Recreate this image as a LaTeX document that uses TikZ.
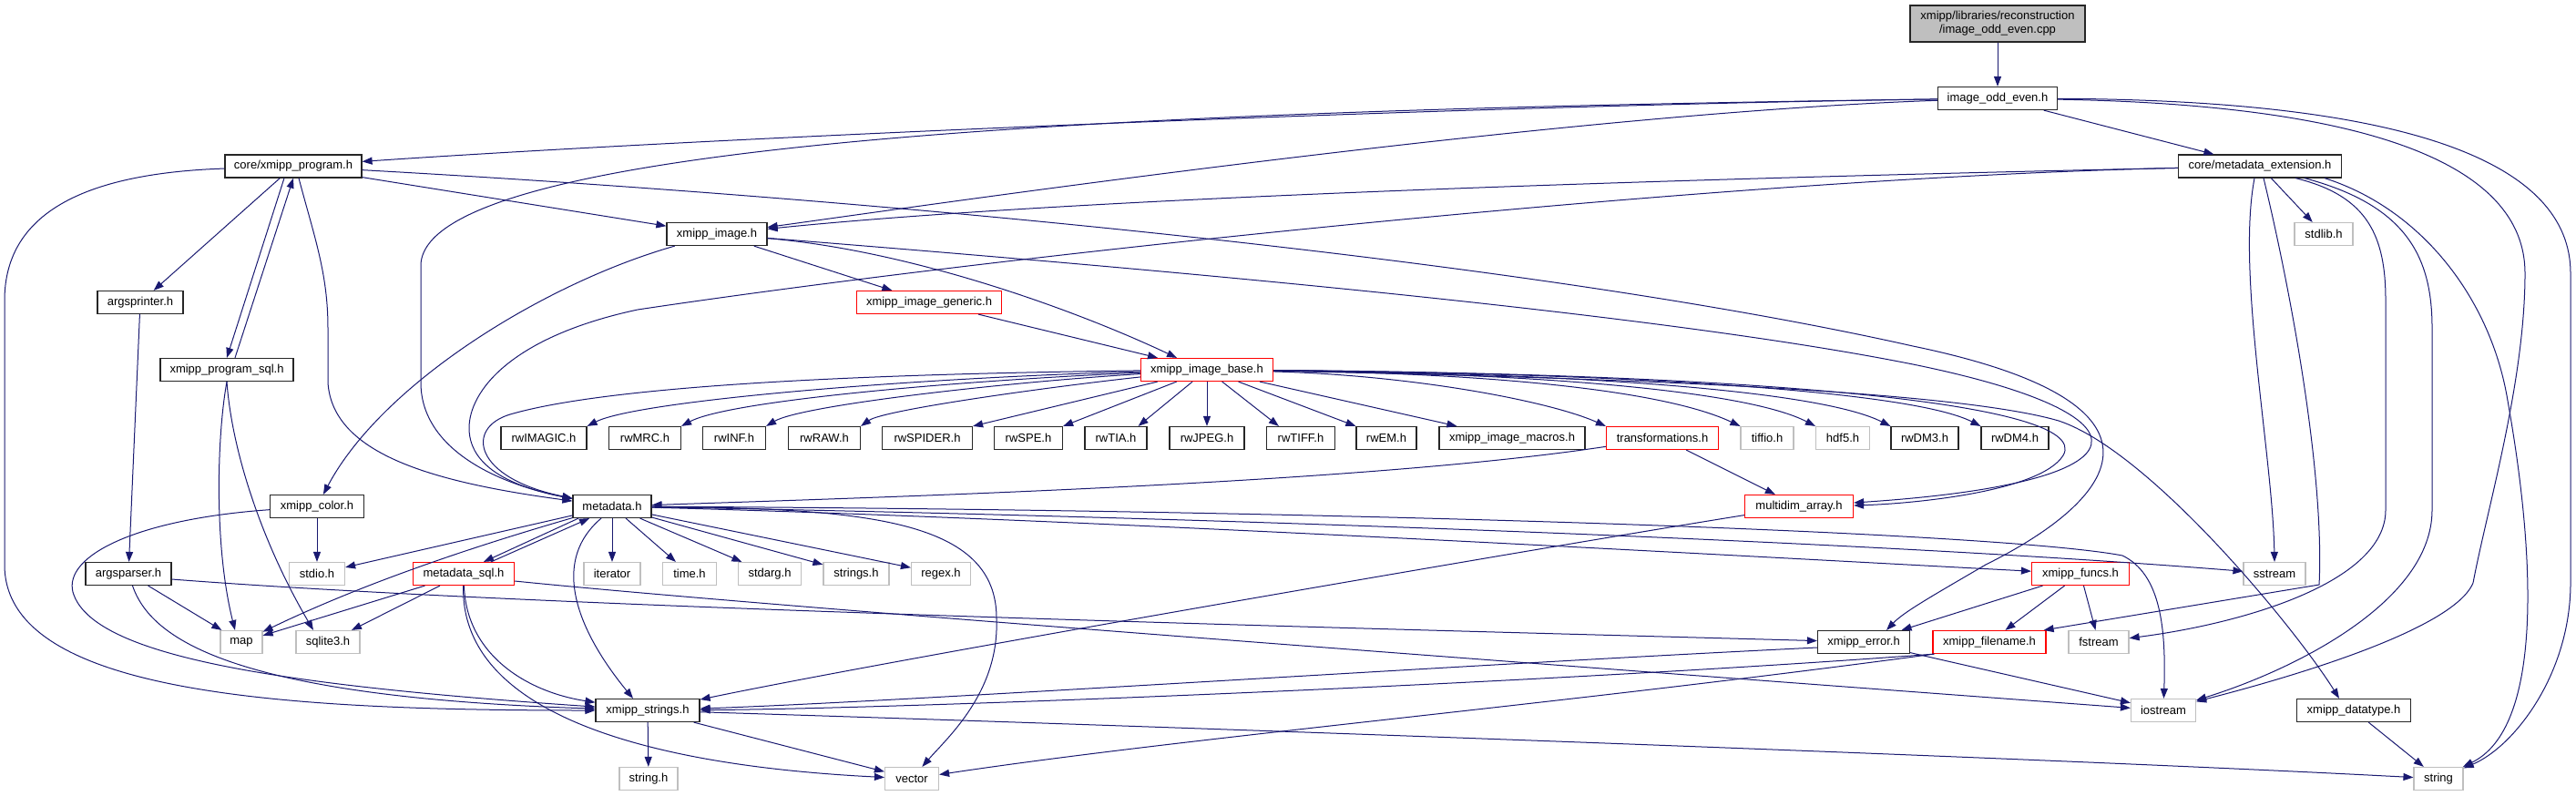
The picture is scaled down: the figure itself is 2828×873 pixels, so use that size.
\documentclass[tikz,border=0pt]{standalone}
\usepackage{fontspec}
\setmainfont{Liberation Sans}
\usetikzlibrary{arrows.meta}
\definecolor{edgec}{RGB}{25,25,112}
\definecolor{sysgray}{RGB}{191,191,191}
\tikzset{
  nb/.style={rectangle, draw=black!85, line width=1.2pt, fill=white, minimum height=25pt, inner sep=0pt, font=\fontsize{13}{15}\selectfont},
  nr/.style={nb, draw=red},
  ng/.style={nb, draw=sysgray},
  e/.style={draw=edgec, line width=1pt, -{Triangle[length=11pt,width=8pt]}}
}
\begin{document}
\begin{tikzpicture}[x=1pt,y=-1pt]
\useasboundingbox (0,0) rectangle (2828,873);
% rank 0-5
\node[nb, fill=sysgray, minimum width=192pt, minimum height=40pt, align=center] (cpp) at (2193,26) {xmipp/libraries/reconstruction\\/image\_odd\_even.cpp};
\node[nb, minimum width=131pt] (ioe) at (2193,108) {image\_odd\_even.h};
\node[nb, minimum width=150pt] (prog) at (322,182.5) {core/xmipp\_program.h};
\node[nb, minimum width=179pt] (mdext) at (2481,182.5) {core/metadata\_extension.h};
\node[nb, minimum width=110pt] (img) at (787,257) {xmipp\_image.h};
\node[ng, minimum width=64pt] (stdlib) at (2551,257) {stdlib.h};
\node[nb, minimum width=94pt] (argsprinter) at (154,332) {argsprinter.h};
\node[nr, minimum width=159pt] (generic) at (1020,332) {xmipp\_image\_generic.h};
\node[nb, minimum width=146pt] (progsql) at (249,406) {xmipp\_program\_sql.h};
\node[nr, minimum width=145pt] (base) at (1325,406) {xmipp\_image\_base.h};
% rank 6
\node[nb, minimum width=94pt] (rwIMAGIC) at (597,481) {rwIMAGIC.h};
\node[nb, minimum width=79pt] (rwMRC) at (708,481) {rwMRC.h};
\node[nb, minimum width=69pt] (rwINF) at (806,481) {rwINF.h};
\node[nb, minimum width=79pt] (rwRAW) at (905,481) {rwRAW.h};
\node[nb, minimum width=99pt] (rwSPIDER) at (1018,481) {rwSPIDER.h};
\node[nb, minimum width=75pt] (rwSPE) at (1129,481) {rwSPE.h};
\node[nb, minimum width=68pt] (rwTIA) at (1225,481) {rwTIA.h};
\node[nb, minimum width=82pt] (rwJPEG) at (1325,481) {rwJPEG.h};
\node[nb, minimum width=75pt] (rwTIFF) at (1428,481) {rwTIFF.h};
\node[nb, minimum width=66pt] (rwEM) at (1522,481) {rwEM.h};
\node[nb, minimum width=160pt] (macros) at (1660,481) {xmipp\_image\_macros.h};
\node[nr, minimum width=123pt] (transf) at (1825,481) {transformations.h};
\node[ng, minimum width=58pt] (tiffio) at (1940,481) {tiffio.h};
\node[ng, minimum width=59pt] (hdf5) at (2023,481) {hdf5.h};
\node[nb, minimum width=74pt] (rwDM3) at (2113,481) {rwDM3.h};
\node[nb, minimum width=74pt] (rwDM4) at (2212,481) {rwDM4.h};
% rank 7
\node[nb, minimum width=103pt] (color) at (348,556) {xmipp\_color.h};
\node[nb, minimum width=86pt] (metadata) at (672,556) {metadata.h};
\node[nr, minimum width=119pt] (multidim) at (1975,556) {multidim\_array.h};
% rank 8
\node[nb, minimum width=94pt] (argsparser) at (141,630) {argsparser.h};
\node[ng, minimum width=61pt] (stdio) at (348,630) {stdio.h};
\node[nr, minimum width=111pt] (mdsql) at (509,630) {metadata\_sql.h};
\node[ng, minimum width=62pt] (iterator) at (672,630) {iterator};
\node[ng, minimum width=59pt] (time) at (757,630) {time.h};
\node[ng, minimum width=69pt] (stdarg) at (845,630) {stdarg.h};
\node[ng, minimum width=72pt] (strings) at (940,630) {strings.h};
\node[ng, minimum width=65pt] (regex) at (1033,630) {regex.h};
\node[nr, minimum width=107pt] (funcs) at (2284,630) {xmipp\_funcs.h};
\node[ng, minimum width=68pt] (sstream) at (2497,630) {sstream};
% rank 9
\node[ng, minimum width=46pt] (map) at (265,705) {map};
\node[ng, minimum width=70pt] (sqlite3) at (360,705) {sqlite3.h};
\node[nb, minimum width=101pt] (error) at (2046,705) {xmipp\_error.h};
\node[nr, minimum width=124pt] (filename) at (2184,705) {xmipp\_filename.h};
\node[ng, minimum width=66pt] (fstream) at (2304,705) {fstream};
% rank 10
\node[nb, minimum width=114pt] (xstrings) at (711,780) {xmipp\_strings.h};
\node[ng, minimum width=71pt] (iostream) at (2375,780) {iostream};
\node[nb, minimum width=125pt] (datatype) at (2584,780) {xmipp\_datatype.h};
% rank 11
\node[ng, minimum width=64pt] (stringh) at (712,855) {string.h};
\node[ng, minimum width=59pt] (vector) at (1001,855) {vector};
\node[ng, minimum width=54pt] (string) at (2677,855) {string};

% ---- edges ----
\draw[e] (cpp) -- (ioe);
\draw[e] (ioe) .. controls (1600,116) and (800,150) .. (prog);
\draw[e] (ioe) .. controls (1700,125) and (1000,228) .. (img);
\draw[e] (ioe) .. controls (1300,120) and (470,150) .. (462,290) -- (462,420) .. controls (462,490) and (540,530) .. (metadata);
\draw[e] (ioe) -- (mdext);
\draw[e] (ioe) .. controls (2600,115) and (2772,180) .. (2772,300) .. controls (2772,420) and (2730,560) .. (2715,640) .. controls (2690,700) and (2450,760) .. (iostream);
\draw[e] (ioe) .. controls (2650,110) and (2822,180) .. (2822,300) -- (2822,640) .. controls (2822,740) and (2760,820) .. (string);

\draw[e] (mdext) .. controls (1900,195) and (1200,215) .. (img);
\draw[e] (mdext) .. controls (1900,195) and (1100,280) .. (700,340) .. controls (560,370) and (515,430) .. (515,470) .. controls (515,520) and (580,538) .. (metadata);
\draw[e] ([xshift=-6pt]mdext.south) .. controls (2455,300) and (2495,500) .. (sstream.north);
\draw[e] ([xshift=4pt]mdext.south) .. controls (2515,320) and (2552,520) .. (2546,642) -- ([xshift=-3pt]filename.north east);
\draw[e] (mdext) -- (stdlib);
\draw[e] ([xshift=39pt]mdext.south) .. controls (2600,215) and (2619,260) .. (2619,330) -- (2619,560) .. controls (2619,640) and (2460,685) .. (fstream);
\draw[e] ([xshift=49pt]mdext.south) .. controls (2640,225) and (2670,280) .. (2670,360) -- (2670,560) .. controls (2670,660) and (2520,735) .. (iostream);
\draw[e] ([xshift=71pt]mdext.south) .. controls (2660,230) and (2735,330) .. (2753,440) .. controls (2785,620) and (2790,800) .. (string);

\draw[e] (prog) -- (argsprinter);
\draw[e] ([xshift=-10pt]prog.south) -- (progsql.north);
\draw[e] ([xshift=9pt]progsql.north) -- (prog.south);
\draw[e] (prog) -- (img);
\draw[e] ([xshift=6pt]prog.south) .. controls (345,260) and (360,300) .. (360,360) -- (360,420) .. controls (365,500) and (480,530) .. (metadata);
\draw[e] (prog) .. controls (100,190) and (5,230) .. (5,330) -- (5,620) .. controls (5,760) and (300,780) .. (xstrings);
\draw[e] (prog) .. controls (1000,220) and (1700,290) .. (2100,380) .. controls (2390,440) and (2340,540) .. (2180,620) .. controls (2120,655) and (2090,672) .. ([xshift=25pt]error.north);

\draw[e] (img) .. controls (600,310) and (420,420) .. (color);
\draw[e] (img) -- (generic);
\draw[e] (img) .. controls (1000,275) and (1180,340) .. ([xshift=-33pt]base.north);
\draw[e] (img) .. controls (1200,290) and (1800,340) .. (2100,400) .. controls (2370,455) and (2370,530) .. ([yshift=4pt]multidim.east);

\draw[e] (generic) -- (base);

\draw[e] (base) .. controls (1000,410) and (680,420) .. (560,455) .. controls (510,470) and (520,525) .. (metadata);
\draw[e] (base) .. controls (1000,415) and (700,440) .. (rwIMAGIC.north east);
\draw[e] (base) .. controls (1050,418) and (800,440) .. (rwMRC.north east);
\draw[e] (base) .. controls (1100,420) and (880,445) .. (rwINF.north east);
\draw[e] (base) .. controls (1150,425) and (970,450) .. (rwRAW.north east);
\draw[e] (base) -- (rwSPIDER.north east);
\draw[e] (base) -- (rwSPE.north east);
\draw[e] (base) -- ([xshift=-10pt]rwTIA.north east);
\draw[e] (base) -- (rwJPEG);
\draw[e] (base) -- ([xshift=14pt]rwTIFF.north west);
\draw[e] (base) -- (rwEM.north west);
\draw[e] (base) -- ([xshift=20pt]macros.north west);
\draw[e] (base) .. controls (1550,412) and (1700,440) .. (transf.north west);
\draw[e] (base) .. controls (1650,410) and (1830,430) .. (tiffio.north west);
\draw[e] (base) .. controls (1700,410) and (1920,430) .. (hdf5.north west);
\draw[e] (base) .. controls (1750,410) and (2000,430) .. (rwDM3.north west);
\draw[e] (base) .. controls (1800,410) and (2100,430) .. (rwDM4.north west);
\draw[e] (base) .. controls (1900,410) and (2300,440) .. (2265,500) .. controls (2240,540) and (2100,553) .. ([yshift=1pt]multidim.east);
\draw[e] (base) .. controls (1800,415) and (2150,430) .. (2260,462) .. controls (2360,495) and (2520,690) .. ([xshift=-16pt]datatype.north);

\draw[e] (transf) .. controls (1500,530) and (1000,545) .. (metadata);
\draw[e] (transf) -- (multidim);

\draw[e] (metadata) -- (stdio);
\draw[e] (metadata) .. controls (520,600) and (400,640) .. (map);
\draw[e] ([xshift=-37pt]metadata.south) -- ([xshift=22pt]mdsql.north);
\draw[e] ([xshift=30pt]mdsql.north) -- ([xshift=-25pt]metadata.south);
\draw[e] (metadata) -- (iterator);
\draw[e] (metadata) -- (time);
\draw[e] (metadata) -- (stdarg);
\draw[e] (metadata) -- (strings);
\draw[e] (metadata) -- (regex);
\draw[e] ([xshift=-12pt]metadata.south) .. controls (600,620) and (640,700) .. ([xshift=-16pt]xstrings.north);
\draw[e] (metadata) .. controls (950,558) and (1095,570) .. (1094,680) .. controls (1097,760) and (1040,810) .. (vector);
\draw[e] (metadata) .. controls (1200,565) and (2000,590) .. (sstream);
\draw[e] (metadata) .. controls (1200,570) and (1900,610) .. (funcs);
\draw[e] (metadata) .. controls (1500,560) and (2200,585) .. (2330,610) .. controls (2372,630) and (2378,690) .. (iostream);

\draw[e] (mdsql) -- (map);
\draw[e] (mdsql) -- (sqlite3);
\draw[e] (mdsql) .. controls (512,720) and (580,760) .. (xstrings);
\draw[e] (mdsql) .. controls (505,780) and (700,840) .. (vector);
\draw[e] ([yshift=-8pt]mdsql.east) .. controls (800,662) and (1500,715) .. (iostream);

\draw[e] (argsprinter) -- (argsparser);
\draw[e] (argsparser) -- (map);
\draw[e] (argsparser) .. controls (165,700) and (250,765) .. (xstrings);
\draw[e] ([yshift=-6pt]argsparser.east) .. controls (600,668) and (1500,690) .. (error);

\draw[e] (progsql.south) .. controls (238,480) and (235,600) .. ([xshift=-7pt]map.north);
\draw[e] (progsql.south) .. controls (255,500) and (290,600) .. ([xshift=-16pt]sqlite3.north);

\draw[e] (color) -- (stdio);
\draw[e] (color) .. controls (150,570) and (70,610) .. (80,650) .. controls (100,720) and (300,752) .. (xstrings);

\draw[e] (multidim) .. controls (1700,600) and (1000,720) .. (xstrings);

\draw[e] (funcs) -- (error);
\draw[e] (funcs) -- (filename);
\draw[e] (funcs) -- (fstream);

\draw[e] ([yshift=-6pt]error.west) .. controls (1600,730) and (1000,770) .. (xstrings);
\draw[e] (error) -- (iostream);

\draw[e] ([xshift=2pt]filename.south west) .. controls (1700,750) and (1000,778) .. (xstrings);
\draw[e] ([xshift=2pt]filename.south west) .. controls (1700,775) and (1300,810) .. (vector);

\draw[e] (xstrings) -- (stringh);
\draw[e] (xstrings) -- (vector);
\draw[e] (xstrings) .. controls (1200,795) and (2200,830) .. (string);

\draw[e] (datatype) -- (string);
\end{tikzpicture}
\end{document}
